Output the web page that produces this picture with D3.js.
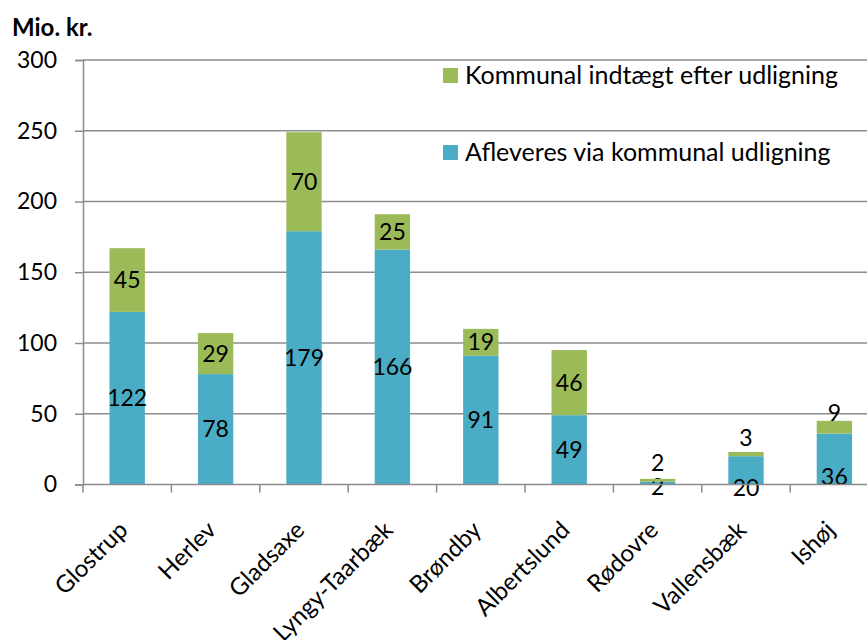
<!DOCTYPE html>
<html>
<head>
<meta charset="utf-8">
<script src="https://cdn.jsdelivr.net/npm/d3@7"></script>
<style>
  body { margin: 0; background: #fff; }
  text { font-family: Lato, "Open Sans", sans-serif; fill: #000; }
</style>
</head>
<body>
<svg id="chart"></svg>
<script>
// data
const kommuner = ["Glostrup", "Herlev", "Gladsaxe", "Lyngy-Taarbæk", "Brøndby", "Albertslund", "Rødovre", "Vallensbæk", "Ishøj"];
const afleveres = [122, 78, 179, 166, 91, 49, 2, 20, 36];
const indtaegt = [45, 29, 70, 25, 19, 46, 2, 3, 9];
const yTicks = [0, 50, 100, 150, 200, 250, 300];
const seriesNames = ["Kommunal indtægt efter udligning", "Afleveres via kommunal udligning"];

const blue = "#4BACC6", green = "#9BBB59", grey = "#8c8c8c";

const width = 867, height = 640;
const x0 = 83, step = 88.4;
const svg = d3.select("#chart").attr("width", width).attr("height", height);

// scales
const xScale = d3.scaleBand()
  .domain(kommuner)
  .range([x0, x0 + step * kommuner.length])
  .paddingInner(0.6)
  .paddingOuter(0.3);

const yScale = d3.scaleLinear()
  .domain([0, 300])
  .range([484.5, 60]);

// gridlines
svg.append("g").selectAll("line")
  .data(yTicks.filter(d => d > 0))
  .enter().append("line")
  .attr("x1", x0).attr("x2", width)
  .attr("y1", d => yScale(d)).attr("y2", d => yScale(d))
  .attr("stroke", grey).attr("stroke-width", 1.3);

// y axis
const yAxis = d3.axisLeft(yScale).tickValues(yTicks).tickSize(8).tickPadding(18);
const gy = svg.append("g").attr("transform", `translate(${x0},0)`).call(yAxis);
gy.select(".domain").attr("stroke", grey).attr("stroke-width", 1.5);
gy.selectAll(".tick line").attr("stroke", grey).attr("stroke-width", 1.5);
gy.selectAll(".tick text").style("font-size", "23px").style("font-family", "Lato").attr("fill", "#000");

// stacked bars
const stackData = kommuner.map((k, i) => ({ name: k, afleveres: afleveres[i], indtaegt: indtaegt[i] }));
const stacked = d3.stack().keys(["afleveres", "indtaegt"])(stackData);
const colors = { afleveres: blue, indtaegt: green };

// small segments had their labels moved by hand in the original (pixels)
const labelNudge = {
  "Rødovre": { afleveres: 4, indtaegt: -17 },
  "Vallensbæk": { afleveres: 18, indtaegt: -16 },
  "Ishøj": { afleveres: 18, indtaegt: -14 }
};

stacked.forEach(layer => {
  const g = svg.append("g");
  g.selectAll("rect")
    .data(layer)
    .enter().append("rect")
    .attr("x", d => xScale(d.data.name))
    .attr("y", d => yScale(d[1]))
    .attr("width", xScale.bandwidth())
    .attr("height", d => yScale(d[0]) - yScale(d[1]))
    .attr("fill", colors[layer.key]);
  g.selectAll("text")
    .data(layer)
    .enter().append("text")
    .attr("x", d => xScale(d.data.name) + xScale.bandwidth() / 2)
    .attr("y", d => (yScale(d[0]) + yScale(d[1])) / 2 + ((labelNudge[d.data.name] || {})[layer.key] || 0))
    .attr("dy", "0.35em")
    .attr("text-anchor", "middle")
    .style("font-size", "23px")
    .text(d => d.data[layer.key]);
});

// x axis
svg.append("line")
  .attr("x1", x0).attr("x2", width)
  .attr("y1", yScale(0)).attr("y2", yScale(0))
  .attr("stroke", grey).attr("stroke-width", 1.5);
svg.append("g").selectAll("line")
  .data(d3.range(kommuner.length + 1))
  .enter().append("line")
  .attr("x1", i => x0 + step * i).attr("x2", i => x0 + step * i)
  .attr("y1", yScale(0)).attr("y2", yScale(0) + 8)
  .attr("stroke", grey).attr("stroke-width", 1.5);

svg.append("g").selectAll("text")
  .data(kommuner)
  .enter().append("text")
  .attr("transform", d => `translate(${xScale(d) + xScale.bandwidth() / 2 + 2},${yScale(0) + 47}) rotate(-45)`)
  .attr("text-anchor", "end")
  .style("font-size", "24px")
  .text(d => d);

// unit label
svg.append("text")
  .attr("x", 12).attr("y", 36)
  .style("font-size", "24px").style("font-weight", "bold")
  .text("Mio. kr.");

// legend
const legend = svg.append("g").selectAll("g")
  .data(seriesNames)
  .enter().append("g")
  .attr("transform", (d, i) => `translate(443,${68 + i * 77})`);
legend.append("rect")
  .attr("width", 15).attr("height", 15)
  .attr("fill", (d, i) => i === 0 ? green : blue);
legend.append("text")
  .attr("x", 22).attr("y", 16)
  .style("font-size", "25px")
  .text(d => d);
</script>
</body>
</html>
